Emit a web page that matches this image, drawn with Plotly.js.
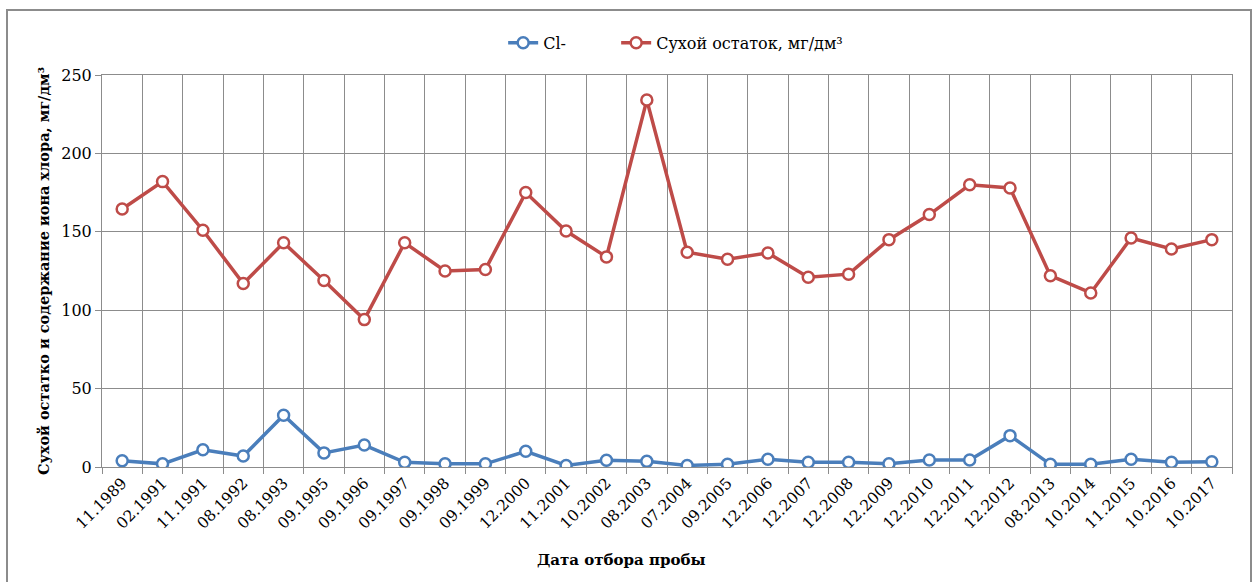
<!DOCTYPE html>
<html>
<head>
<meta charset="utf-8">
<script src="https://cdn.plot.ly/plotly-3.0.1.min.js"></script>
<style>
  html, body { margin: 0; padding: 0; background: #fff; }
  #wrap { position: relative; width: 1259px; height: 582px; overflow: hidden; }
  #chart { position: absolute; left: 0; top: 0; width: 1259px; height: 582px; }
  #frame { position: absolute; left: 6px; top: 9px; width: 1246px; height: 590px;
           border: 2px solid #8c8c8c; box-sizing: border-box; pointer-events: none; }
</style>
</head>
<body>
<div id="wrap">
  <div id="chart"></div>
  <div id="frame"></div>
</div>
<script>
const categories = ["11.1989","02.1991","11.1991","08.1992","08.1993","09.1995","09.1996","09.1997","09.1998","09.1999",
  "12.2000","11.2001","10.2002","08.2003","07.2004","09.2005","12.2006","12.2007","12.2008","12.2009",
  "12.2010","12.2011","12.2012","08.2013","10.2014","11.2015","10.2016","10.2017"];
const chloride = [4, 2, 11, 7, 33, 9, 14, 3, 2, 2,
  10, 1, 4.3, 3.6, 1, 1.7, 5, 3, 3, 2,
  4.5, 4.5, 20, 1.7, 1.7, 5, 3, 3.3];
const dryResidue = [164.5, 182, 151, 117, 143, 119, 94, 143, 125, 126,
  175, 150.5, 134, 234, 137, 132.5, 136.5, 121, 123, 145,
  161, 180, 178, 122, 111, 146, 139, 145];
const seriesNames = ["Cl-", "Сухой остаток, мг/дм³"];
const yTickVals = [0, 50, 100, 150, 200, 250];
const xTitle = "Дата отбора пробы";
const yTitle = "Сухой остатко и содержание иона хлора, мг/дм³";

const SERIF = "DejaVu Serif";
const traces = [
  { x: categories, y: chloride, name: seriesNames[0], type: "scatter", mode: "lines+markers", legend: "legend",
    line: { color: "#4a7ebb", width: 3.5 },
    marker: { symbol: "circle", size: 11, color: "#ffffff", line: { color: "#4a7ebb", width: 2.5 } } },
  { x: categories, y: dryResidue, name: seriesNames[1], type: "scatter", mode: "lines+markers", legend: "legend2",
    line: { color: "#be4b48", width: 3.5 },
    marker: { symbol: "circle", size: 11, color: "#ffffff", line: { color: "#be4b48", width: 2.5 } } }
];
const legendFont = { family: SERIF, size: 16, color: "#000" };
const layout = {
  width: 1259, height: 582,
  margin: { l: 102, r: 27, t: 75, b: 115, autoexpand: false },
  paper_bgcolor: "rgba(0,0,0,0)", plot_bgcolor: "#ffffff",
  font: { family: SERIF, size: 16, color: "#000" },
  showlegend: true,
  legend: { orientation: "h", x: 0.355, xanchor: "left", y: 1.082, yanchor: "middle", font: legendFont, bgcolor: "rgba(0,0,0,0)" },
  legend2: { orientation: "h", x: 0.455, xanchor: "left", y: 1.082, yanchor: "middle", font: legendFont, bgcolor: "rgba(0,0,0,0)" },
  xaxis: {
    type: "category", tickson: "boundaries", tickangle: -45, automargin: false,
    showgrid: true, gridcolor: "#8c8c8c", gridwidth: 1,
    showline: true, linecolor: "#8c8c8c", linewidth: 1, mirror: true,
    ticks: "outside", ticklen: 6, tickcolor: "#8c8c8c",
    tickfont: { family: SERIF, size: 15.5, color: "#000" },
    range: [-0.5, categories.length - 0.5]
  },
  yaxis: {
    range: [0, 250], tickvals: yTickVals, automargin: false,
    showgrid: true, gridcolor: "#8c8c8c", gridwidth: 1, zeroline: false,
    showline: true, linecolor: "#8c8c8c", linewidth: 1, mirror: true,
    ticks: "outside", ticklen: 6, tickcolor: "#8c8c8c",
    tickfont: { family: SERIF, size: 16, color: "#000" },
    title: { text: "<b>" + yTitle + "</b>", font: { family: SERIF, size: 14.5, color: "#000" }, standoff: 8 }
  },
  annotations: [
    { text: "<b>" + xTitle + "</b>", xref: "paper", yref: "paper", x: 0.46, y: -0.237,
      xanchor: "center", yanchor: "middle", showarrow: false,
      font: { family: SERIF, size: 15, color: "#000" } }
  ]
};
Plotly.newPlot("chart", traces, layout, { displayModeBar: false, staticPlot: true });
</script>
</body>
</html>
